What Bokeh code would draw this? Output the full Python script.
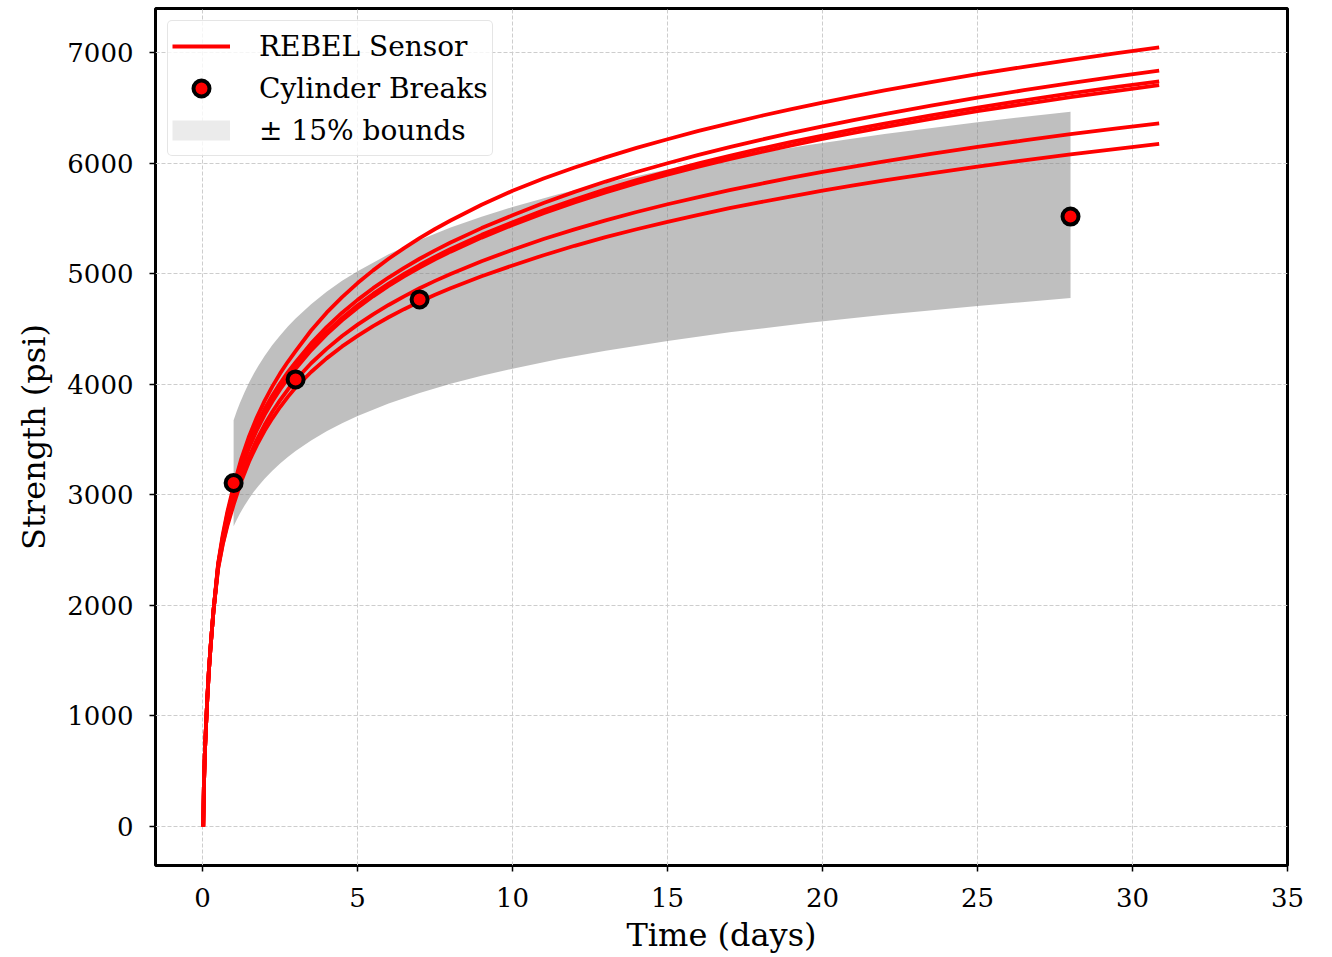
from bokeh.plotting import figure
from bokeh.models import Range1d, Legend, LegendItem
from bokeh.embed import file_html
from bokeh.resources import INLINE

# ---------------- data ----------------
t_sensor = [0.02, 0.04, 0.07, 0.1, 0.15, 0.2, 0.25, 0.35, 0.5, 0.65, 0.8,
            1, 1.25, 1.5, 1.75, 2, 2.25, 2.5, 2.75, 3, 3.5, 4, 4.5, 5, 5.5, 6, 6.5,
            7, 7.5, 8, 9, 10, 11, 12, 13, 14, 15, 16, 17, 18, 19, 20, 21, 22,
            23.5, 25, 26.5, 28, 29.5, 30.86]

sensor_1 = [0, 350, 650, 850, 1150, 1400, 1600, 1950, 2380, 2640, 2850,
            3080, 3328, 3530, 3701, 3850, 3981, 4098, 4203, 4300, 4486, 4647, 4788,
            4915, 5030, 5135, 5231, 5321, 5404, 5481, 5623, 5750, 5860, 5960, 6052,
            6137, 6216, 6291, 6360, 6426, 6488, 6547, 6603, 6657, 6733, 6804, 6871,
            6934, 6994, 7046]
sensor_2 = [0, 350, 650, 850, 1150, 1400, 1600, 1950, 2370, 2620, 2830,
            3050, 3284, 3474, 3636, 3776, 3899, 4009, 4109, 4200, 4370, 4517, 4647,
            4763, 4869, 4965, 5053, 5135, 5211, 5282, 5412, 5528, 5639, 5740, 5833,
            5919, 5999, 6074, 6144, 6210, 6273, 6333, 6389, 6443, 6520, 6592, 6659,
            6723, 6784, 6836]
sensor_3 = [0, 350, 650, 850, 1150, 1400, 1600, 1950, 2360, 2610, 2810,
            3030, 3260, 3447, 3606, 3743, 3864, 3973, 4071, 4160, 4327, 4472, 4600,
            4714, 4817, 4911, 4998, 5078, 5153, 5223, 5351, 5465, 5573, 5671, 5762,
            5846, 5924, 5997, 6065, 6130, 6191, 6249, 6305, 6357, 6432, 6502, 6568,
            6630, 6689, 6740]
sensor_4 = [0, 350, 650, 850, 1150, 1400, 1600, 1950, 2360, 2600, 2800,
            3010, 3240, 3427, 3586, 3723, 3844, 3953, 4051, 4140, 4307, 4451, 4578,
            4692, 4795, 4889, 4975, 5055, 5129, 5199, 5326, 5440, 5547, 5645, 5735,
            5818, 5895, 5968, 6036, 6100, 6161, 6218, 6273, 6325, 6399, 6469, 6534,
            6596, 6654, 6705]
sensor_5 = [0, 350, 650, 850, 1150, 1400, 1600, 1950, 2340, 2560, 2740,
            2940, 3163, 3345, 3500, 3633, 3751, 3856, 3952, 4039, 4190, 4320, 4436,
            4539, 4632, 4717, 4795, 4868, 4935, 4998, 5113, 5216, 5313, 5401, 5482,
            5558, 5628, 5693, 5755, 5813, 5868, 5920, 5969, 6016, 6083, 6146, 6205,
            6261, 6314, 6360]
sensor_6 = [0, 350, 650, 850, 1150, 1400, 1600, 1950, 2330, 2550, 2720,
            2910, 3125, 3301, 3450, 3579, 3692, 3794, 3886, 3970, 4111, 4234, 4342,
            4438, 4526, 4606, 4679, 4747, 4810, 4869, 4977, 5074, 5167, 5252, 5330,
            5402, 5469, 5532, 5592, 5647, 5700, 5750, 5798, 5843, 5907, 5968, 6025,
            6078, 6129, 6173]
sensors = [sensor_1, sensor_2, sensor_3, sensor_4, sensor_5, sensor_6]

break_days = [1, 3, 7, 28]
break_strength = [3107, 4044, 4767, 5516]

band_days = [1, 1.1, 1.2, 1.35, 1.5, 1.65, 1.8, 2, 2.25, 2.5, 2.75, 3, 3.5, 4, 4.5, 5,
             6, 7, 8, 9, 10, 11.5, 13, 15, 17, 19.5, 22, 25, 28]
band_upper = [3675, 3755, 3828, 3926, 4015, 4095, 4168, 4256, 4354, 4442, 4522, 4595,
              4724, 4836, 4935, 5023, 5175, 5305, 5417, 5515, 5603, 5720, 5822, 5942,
              6048, 6162, 6263, 6370, 6465]
band_lower = [2717, 2775, 2830, 2902, 2967, 3027, 3080, 3146, 3218, 3284, 3342, 3397,
              3492, 3574, 3647, 3713, 3825, 3921, 4004, 4077, 4141, 4228, 4304, 4392,
              4470, 4554, 4629, 4708, 4779]

x_ticks = [0, 5, 10, 15, 20, 25, 30, 35]
y_ticks = [0, 1000, 2000, 3000, 4000, 5000, 6000, 7000]

FONT = "DejaVu Serif"

# ---------------- figure ----------------
p = figure(width=1332, height=957,
           x_range=Range1d(-1.52, 35), y_range=Range1d(-352, 7398),
           output_backend="svg", toolbar_location=None,
           min_border_left=155, min_border_right=45,
           min_border_top=8, min_border_bottom=92)

p.background_fill_color = "white"
p.border_fill_color = "white"
p.outline_line_color = "black"
p.outline_line_width = 3

band_r = p.varea(x=band_days, y1=band_lower, y2=band_upper,
                 fill_color="gray", fill_alpha=0.5)

line_rs = []
for s in sensors:
    r = p.line(x=t_sensor, y=s, line_color="red", line_width=3.8, line_join="round")
    line_rs.append(r)

scatter_r = p.scatter(break_days, break_strength, size=16, marker="circle",
                      fill_color="red", line_color="black", line_width=4)

# legend-only proxy for the band swatch (hidden on the plot, shown in the legend)
band_proxy = p.line(x=band_days, y=band_upper, line_color="#ebebeb",
                    line_width=20, visible=False)

legend = Legend(items=[
    LegendItem(label="REBEL Sensor", renderers=[line_rs[0]]),
    LegendItem(label="Cylinder Breaks", renderers=[scatter_r]),
    LegendItem(label="\u00b1 15% bounds", renderers=[band_proxy]),
], location="top_left")
legend.label_text_font = FONT
legend.label_text_font_size = "28px"
legend.label_text_color = "black"
legend.glyph_width = 58
legend.glyph_height = 40
legend.label_height = 42
legend.label_standoff = 29
legend.padding = 4
legend.spacing = 0
legend.margin = 12
legend.border_line_color = "#cccccc"
legend.border_line_width = 1.5
legend.background_fill_color = "white"
legend.background_fill_alpha = 0.8
try:
    legend.border_radius = 5
except Exception:
    pass
p.add_layout(legend)

# axes
p.xaxis.ticker = x_ticks
p.yaxis.ticker = y_ticks
p.xaxis.axis_label = "Time (days)"
p.yaxis.axis_label = "Strength (psi)"
for ax in (p.xaxis, p.yaxis):
    ax.axis_line_color = None
    ax.major_tick_line_color = "black"
    ax.major_tick_line_width = 1.5
    ax.major_tick_out = 6
    ax.major_tick_in = 0
    ax.minor_tick_line_color = None
    ax.major_label_text_font = FONT
    ax.major_label_text_font_size = "26px"
    ax.major_label_text_color = "black"
    ax.axis_label_text_font = FONT
    ax.axis_label_text_font_size = "32px"
    ax.axis_label_text_font_style = "normal"
    ax.axis_label_text_color = "black"
p.xaxis.major_label_standoff = 16
p.xaxis.axis_label_standoff = 6
p.yaxis.major_label_standoff = 16
p.yaxis.axis_label_standoff = 11

p.grid.grid_line_color = "#cdcdcd"
p.grid.grid_line_width = 1
p.grid.grid_line_dash = "4 2"

open("out.html", "w").write(file_html(p, INLINE))
